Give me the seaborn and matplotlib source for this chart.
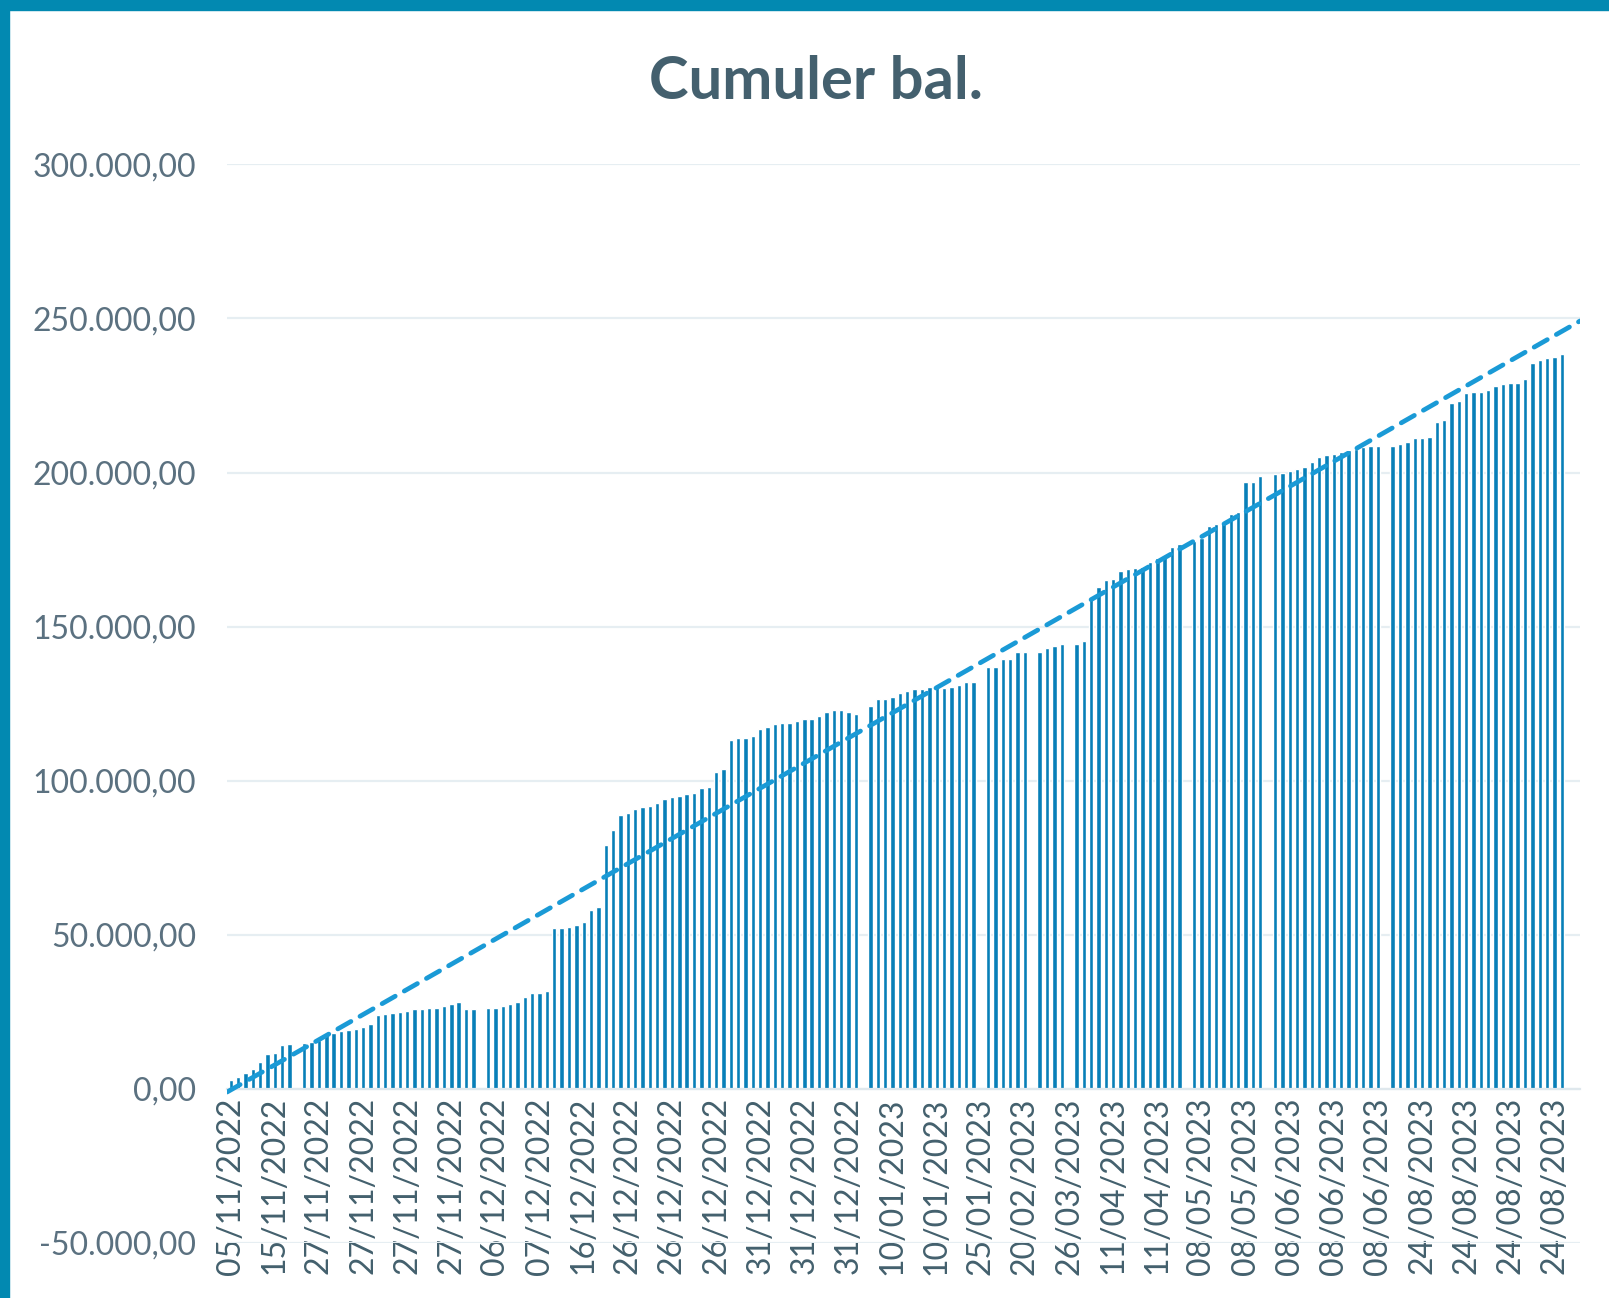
import matplotlib.pyplot as plt
import matplotlib.ticker as mticker
from matplotlib.patches import Rectangle
import numpy as np
import pandas as pd
import seaborn as sns

sns.set_style("white")
plt.rcParams["font.family"] = ["Lato", "DejaVu Sans"]

# cumulative balance per row, in thousands (None = empty row in the sheet)
balance_k = [
    2.9, 3.9, 5.0, 6.6, 8.8, 11.3, 11.7, 14.2, 14.4, None,
    14.8, 15.3, 15.8, 17.8, 18.2, 18.9, 19.1, 19.4, 20.2, 21.0,
    23.9, 24.3, 24.7, 25.0, 25.2, 25.8, 25.8, 26.3, 26.4, 27.0,
    27.5, 28.1, 25.8, 25.8, None,
    26.3, 26.3, 27.0, 27.5, 28.2, 29.9, 31.2, 31.2, 31.8,
    52.1, 52.1, 52.6, 53.1, 54.2, 58.0, 59.1,
    79.1, 84.0, 88.8, 89.6, 90.8, 91.5, 91.9, 92.6, 93.9, 94.6,
    95.1, 95.7, 96.1, 97.5, 98.0, 102.9, 103.7, 113.2, 113.9, 114.0,
    114.5, 116.7, 117.5, 118.4, 118.8, 118.8, 119.3, 119.9, 119.9, 121.1,
    122.4, 122.9, 122.9, 122.4, 121.8, None,
    124.2, 126.6, 126.6, 127.2, 128.5, 129.1, 129.6, 129.6, 130.5, 130.5,
    130.1, 130.5, 131.0, 132.1, 132.1, None,
    137.0, 137.0, 139.4, 139.4, 141.8, 141.8, None,
    141.8, 142.9, 143.7, 144.2, None,
    144.3, 145.4,
    159.7, 162.9, 165.1, 165.6, 168.1, 168.6, 168.9, 169.4, 171.0, 172.1,
    173.2, 175.9, 176.8, None,
    177.8, 178.6, 182.5, 183.3, 184.1, 186.4, 187.2, 196.8, 196.8, 198.8, None,
    199.5, 200.0, 200.6, 201.3, 201.9, 203.5, 204.9, 205.6, 206.0, 206.7,
    207.3, 207.5, 208.3, 208.6, 208.6, None,
    208.6, 209.4, 210.0, 211.1, 211.1, 211.6, 216.5, 217.2, 222.6, 223.2,
    225.9, 226.2, 226.2, 226.7, 228.0, 228.7, 229.2, 229.2, 230.5, 235.4,
    236.5, 237.0, 237.5, 238.3,
    None, None,
]

# one date label every 6 rows
tick_step = 6
tick_labels = [
    "05/11/2022", "15/11/2022", "27/11/2022", "27/11/2022", "27/11/2022",
    "27/11/2022", "06/12/2022", "07/12/2022", "16/12/2022", "26/12/2022",
    "26/12/2022", "26/12/2022", "31/12/2022", "31/12/2022", "31/12/2022",
    "10/01/2023", "10/01/2023", "25/01/2023", "20/02/2023", "26/03/2023",
    "11/04/2023", "11/04/2023", "08/05/2023", "08/05/2023", "08/06/2023",
    "08/06/2023", "08/06/2023", "24/08/2023", "24/08/2023", "24/08/2023",
    "24/08/2023",
]

values = [v * 1000 if v is not None else np.nan for v in balance_k]
df = pd.DataFrame({"row": np.arange(len(values)), "balance": values})
bars = df.dropna()

fig = plt.figure(figsize=(16.09, 12.98), dpi=100)
ax = fig.add_axes([0.1411, 0.0424, 0.841, 0.831])

sns.barplot(
    data=bars,
    x="row",
    y="balance",
    native_scale=True,
    color="#087fb8",
    saturation=1,
    width=0.6,
    errorbar=None,
    ax=ax,
)

# linear trend line across the whole category axis
coef = np.polyfit(bars["row"], bars["balance"], 1)
xs = np.array([-0.5, len(values) - 0.5])
ax.plot(xs, np.polyval(coef, xs), color="#1a9ad6", lw=3.4,
        ls=(0, (3.2, 2.2)), dash_capstyle="round", zorder=5)

# x axis crosses at 0, as in the spreadsheet
for side in ["top", "right", "left"]:
    ax.spines[side].set_visible(False)
ax.spines["bottom"].set_position(("data", 0))
ax.spines["bottom"].set_color("#dfe8ed")
ax.spines["bottom"].set_linewidth(1.6)

ax.set_xlim(-0.5, len(values) - 0.5)
ax.set_ylim(-50000, 300000)
ax.set_yticks(np.arange(-50000, 300001, 50000))


def euro_fmt(v, pos):
    s = f"{v:,.2f}"
    return s.replace(",", "X").replace(".", ",").replace("X", ".")


ax.yaxis.set_major_formatter(mticker.FuncFormatter(euro_fmt))
ax.grid(axis="y", color="#e6eef2", lw=1.6)
ax.set_axisbelow(True)

ax.set_xticks(np.arange(len(tick_labels)) * tick_step)
ax.set_xticklabels(tick_labels)
ax.tick_params(axis="x", length=0, pad=6, labelsize=23, labelcolor="#43606d",
               labelrotation=90)
ax.tick_params(axis="y", length=0, pad=22, labelsize=23, labelcolor="#5b7180")
ax.set_xlabel("")
ax.set_ylabel("")

fig.text(0.507, 1 - 82 / 1298, "Cumuler bal.", ha="center", va="center",
         fontsize=43, fontweight="bold", color="#44606e")

# teal frame on top and left
fig.patches.append(Rectangle((0, 1 - 10 / 1298), 1, 10 / 1298,
                             transform=fig.transFigure, color="#0289b1"))
fig.patches.append(Rectangle((0, 0), 9 / 1609, 1,
                             transform=fig.transFigure, color="#0289b1"))

fig.savefig("out.png", dpi=100)
